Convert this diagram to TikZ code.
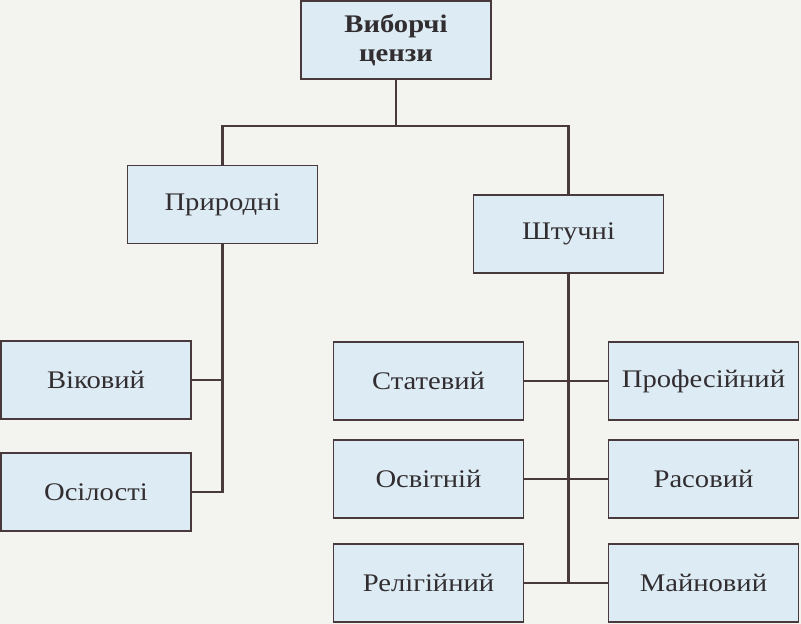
\documentclass[tikz,border=0pt]{standalone}
\usepackage{fontspec}
\setmainfont{Liberation Serif}[FakeStretch=1.13]
\definecolor{boxfill}{RGB}{221,236,244}
\definecolor{inkline}{RGB}{72,58,60}
\definecolor{inktext}{RGB}{50,45,48}
\definecolor{paper}{RGB}{243,243,240}

\begin{document}
\begin{tikzpicture}[x=0.75pt,y=-0.75pt,
    cell/.style={draw=inkline, line width=1.3pt, fill=boxfill, text=inktext,
        minimum width=142.5pt, minimum height=58.5pt, inner sep=0pt,
        font=\fontsize{19}{22}\selectfont},
    link/.style={draw=inkline, line width=2pt}]

\fill[paper] (0,0) rectangle (801,624);
\useasboundingbox (0,0) rectangle (801,624);

% top and second level
\node[cell, align=center, font=\fontsize{19}{22}\selectfont\bfseries] (vybor) at (396,40) {Виборчі\\цензи};
\node[cell] (pryr) at (222.5,204.5) {Природні};
\node[cell] (shtuch) at (568.5,234) {Штучні};

% natural ones
\node[cell] (vik) at (96,380) {Віковий};
\node[cell] (osil) at (96,492) {Осілості};

% artificial ones, two columns
\foreach \lname/\ltxt/\rname/\rtxt/\y in {stat/Статевий/prof/Професійний/381,
        osvit/Освітній/ras/Расовий/479, relig/Релігійний/mayn/Майновий/583} {
    \node[cell] (\lname) at (428.5,\y) {\ltxt};
    \node[cell] (\rname) at (703.5,\y) {\rtxt};
    \path[link] (\lname.east) -- (\rname.west);
}

\coordinate (split) at (396,126);
\path[link] (vybor.south) -- (split);
\path[link] (pryr.north) |- (split) -| (shtuch.north);

\path[link] (pryr.south) |- (osil.east);
\path[link] (vik.east) -- (vik.east -| pryr.south);
\path[link] (shtuch.south) -- (shtuch.south |- relig.east);
\end{tikzpicture}
\end{document}
